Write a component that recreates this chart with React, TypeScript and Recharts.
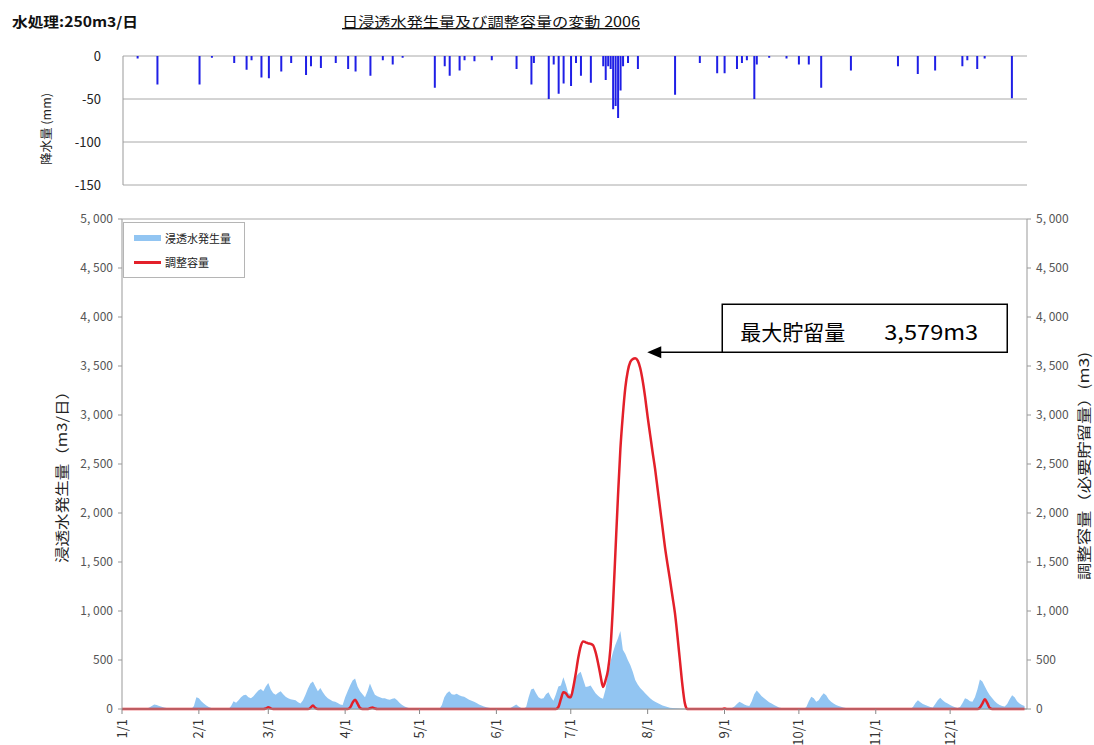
import React from 'react';
import {
  ComposedChart,
  BarChart,
  Bar,
  Area,
  Line,
  XAxis,
  YAxis,
  CartesianGrid,
  Legend,
  ReferenceDot,
} from 'recharts';

const FONT = '"Noto Sans CJK JP", "Noto Sans", sans-serif';
const BAR_COLOR = '#1f1fe6';
const SEEP_COLOR = '#92c5f2';
const RED = '#e3202a';
const GRID = '#a8a8a8';

// x axis: day index of the year 2006 (0 = 1/1)
const monthStartDays = [0, 31, 59, 90, 120, 151, 181, 212, 243, 273, 304, 334];
const monthLabels = ['1/1', '2/1', '3/1', '4/1', '5/1', '6/1', '7/1', '8/1', '9/1', '10/1', '11/1', '12/1'];

// precipitation (mm), days with rain
const precipDays = [6, 14, 31, 36, 45, 50, 52, 56, 59, 64, 68, 74, 76, 80, 86, 91, 94, 100, 105, 109, 113, 126, 130, 132, 136, 138, 142, 149, 159, 165, 166, 172, 174, 176, 178, 181, 183, 185, 189, 194, 195, 196, 197, 198, 199, 200, 201, 202, 204, 208, 223, 233, 240, 243, 248, 250, 252, 255, 256, 261, 268, 273, 277, 282, 294, 313, 321, 328, 339, 341, 345, 348, 359];
const precipValues = [3, 33, 33, 2, 8, 16, 5, 25, 26, 18, 8, 22, 12, 14, 8, 15, 18, 23, 5, 10, 2, 37, 12, 23, 17, 5, 6, 5, 15, 33, 8, 50, 10, 44, 32, 35, 8, 23, 31, 12, 28, 12, 15, 62, 58, 72, 40, 12, 8, 15, 45, 8, 20, 20, 15, 8, 5, 50, 10, 2, 3, 10, 10, 37, 17, 12, 21, 17, 12, 5, 15, 3, 49];

// daily seepage generation (m3/day), by month
const seepJan = [0, 0, 0, 0, 0, 0, 0, 0, 0, 0, 5, 15, 30, 45, 40, 30, 22, 15, 10, 6, 3, 2, 0, 0, 0, 0, 0, 0, 0, 30, 120];
const seepFeb = [110, 80, 55, 35, 20, 10, 5, 2, 0, 0, 0, 0, 0, 30, 80, 65, 90, 120, 140, 145, 120, 110, 130, 160, 190, 205, 180, 230];
const seepMar = [265, 200, 160, 145, 165, 180, 150, 125, 110, 100, 95, 90, 70, 55, 90, 145, 210, 260, 280, 230, 180, 215, 170, 135, 110, 95, 80, 75, 60, 45, 40];
const seepApr = [120, 180, 240, 290, 310, 230, 180, 150, 120, 180, 260, 200, 145, 130, 120, 110, 110, 100, 95, 105, 110, 90, 60, 40, 25, 15, 8, 4, 2, 0];
const seepMay = [0, 0, 0, 0, 0, 0, 0, 0, 0, 40, 120, 160, 180, 150, 145, 155, 140, 130, 125, 110, 95, 85, 75, 60, 45, 35, 25, 18, 12, 8, 5];
const seepJun = [3, 0, 0, 0, 0, 0, 15, 30, 45, 25, 10, 5, 20, 120, 200, 210, 160, 120, 105, 110, 150, 170, 120, 85, 150, 230, 240, 325, 250, 160];
const seepJul = [150, 240, 325, 360, 380, 300, 225, 230, 240, 200, 160, 135, 115, 105, 200, 360, 480, 580, 655, 720, 795, 605, 560, 500, 450, 380, 295, 250, 215, 190, 160];
const seepAug = [135, 110, 90, 75, 60, 48, 35, 28, 20, 14, 10, 7, 5, 3, 2, 0, 0, 0, 0, 0, 0, 0, 0, 0, 0, 0, 0, 0, 0, 0, 0];
const seepSep = [5, 10, 8, 10, 25, 50, 75, 60, 45, 35, 30, 80, 150, 190, 160, 130, 110, 90, 70, 55, 40, 28, 15, 10, 6, 3, 0, 0, 0, 0];
const seepOct = [0, 0, 0, 20, 80, 125, 110, 75, 90, 130, 160, 140, 100, 75, 55, 40, 30, 22, 15, 10, 6, 3, 0, 0, 0, 0, 0, 0, 0, 0, 0];
const seepNov = [0, 0, 0, 0, 0, 0, 0, 0, 0, 0, 0, 0, 0, 0, 0, 20, 60, 90, 70, 50, 40, 30, 20, 15, 50, 90, 115, 90, 70, 55];
const seepDec = [40, 28, 18, 10, 20, 60, 110, 100, 80, 75, 120, 200, 300, 280, 230, 180, 140, 110, 80, 55, 40, 30, 25, 50, 100, 140, 120, 80, 55, 40, 30];
const seepage = [...seepJan, ...seepFeb, ...seepMar, ...seepApr, ...seepMay, ...seepJun, ...seepJul, ...seepAug, ...seepSep, ...seepOct, ...seepNov, ...seepDec];

// storage volume (m3), days where it is above zero
const storageDays = [58, 59, 60, 76, 77, 78, 92, 93, 94, 95, 96, 100, 101, 102, 176, 177, 178, 179, 180, 181, 182, 183, 184, 185, 186, 187, 188, 189, 190, 191, 192, 193, 194, 195, 196, 197, 198, 199, 200, 201, 202, 203, 204, 205, 206, 207, 208, 209, 210, 211, 212, 213, 214, 215, 216, 217, 218, 219, 220, 221, 222, 223, 224, 225, 226, 227, 243, 346, 347, 348, 349, 350];
const storageValues = [5, 18, 6, 12, 35, 10, 15, 65, 95, 55, 10, 8, 15, 5, 20, 100, 170, 160, 125, 120, 220, 360, 520, 640, 690, 680, 670, 665, 650, 580, 470, 340, 225, 290, 395, 620, 1050, 1600, 2150, 2650, 3000, 3280, 3450, 3540, 3570, 3579, 3555, 3480, 3350, 3180, 2980, 2800, 2620, 2450, 2250, 2050, 1850, 1650, 1480, 1320, 1150, 980, 750, 500, 250, 60, 5, 15, 55, 100, 60, 10];

const peakDay = 207;
const peakValue = 3579;

const precipTicks = [0, -50, -100, -150];
const mainTicks = [0, 500, 1000, 1500, 2000, 2500, 3000, 3500, 4000, 4500, 5000];

const days = seepage.map((_, i) => i);
const precipData = days.map((d) => {
  const k = precipDays.indexOf(d);
  return { day: d, rain: k >= 0 ? -precipValues[k] : 0 };
});
const mainData = days.map((d) => {
  const k = storageDays.indexOf(d);
  return { day: d, seep: seepage[d], storage: k >= 0 ? storageValues[k] : 0 };
});

const fmt = (v: number) =>
  v >= 1000 ? `${Math.floor(v / 1000)}, ${String(v % 1000).padStart(3, '0')}` : String(v);

const MonthTick = (props: any) => {
  const { x, y, payload } = props;
  const ty = y + 3;
  return (
    <text
      x={x}
      y={ty}
      transform={`rotate(-90, ${x}, ${ty})`}
      textAnchor="end"
      dy="0.35em"
      fontSize={13}
      fontFamily={FONT}
      fill="#333"
    >
      {monthLabels[monthStartDays.indexOf(payload.value)]}
    </text>
  );
};

const renderLegend = () => (
  <div
    style={{
      width: 122,
      height: 56,
      border: '1px solid #b5b5b5',
      background: '#fff',
      boxSizing: 'border-box',
      padding: '3px 0 0 10px',
      fontFamily: FONT,
      fontSize: 11,
      color: '#222',
    }}
  >
    <div style={{ display: 'flex', alignItems: 'center', height: 24 }}>
      <span style={{ display: 'inline-block', width: 27, height: 6, background: SEEP_COLOR, marginRight: 4 }} />
      浸透水発生量
    </div>
    <div style={{ display: 'flex', alignItems: 'center', height: 24 }}>
      <span style={{ display: 'inline-block', width: 27, height: 3, background: RED, marginRight: 4 }} />
      調整容量
    </div>
  </div>
);

const PeakCallout = (props: any) => {
  const { cx, cy } = props;
  if (cx == null || cy == null) return null;
  const ay = cy - 6;
  return (
    <g>
      <line x1={cx + 22} y1={ay} x2={cx + 107} y2={ay} stroke="#000" strokeWidth={1.5} />
      <polygon points={`${cx + 12},${ay} ${cx + 26},${ay - 6} ${cx + 26},${ay + 6}`} fill="#000" />
      <rect x={cx + 87} y={cy - 54} width={285} height={48} fill="#fff" stroke="#000" strokeWidth={1.5} />
      <text x={cx + 105} y={cy - 18} fontSize={21} fontFamily={FONT} fill="#000">
        最大貯留量
      </text>
      <text x={cx + 249} y={cy - 18} fontSize={21} fontFamily={FONT} fill="#000" textLength={94} lengthAdjust="spacingAndGlyphs">
        3,579m3
      </text>
    </g>
  );
};

export default function App() {
  return (
    <div
      style={{
        position: 'absolute',
        left: 0,
        top: 0,
        width: 1094,
        height: 745,
        overflow: 'hidden',
        background: '#fff',
        fontFamily: FONT,
      }}
    >
      {/* precipitation chart */}
      <div style={{ position: 'absolute', left: 0, top: 40 }}>
        <BarChart width={1094} height={158} data={precipData} margin={{ top: 16, right: 67, left: 68, bottom: 13 }} barSize={2}>
          <CartesianGrid vertical={false} stroke={GRID} />
          <XAxis
            dataKey="day"
            type="number"
            orientation="top"
            domain={[0, 365]}
            ticks={monthStartDays}
            tickFormatter={() => ''}
            height={0}
            tickSize={3}
            axisLine={{ stroke: '#888' }}
            tickLine={{ stroke: '#888' }}
            allowDataOverflow
          />
          <YAxis
            domain={[-150, 0]}
            ticks={precipTicks}
            width={55}
            tickLine={false}
            tickMargin={16}
            axisLine={{ stroke: '#999' }}
            tick={{ fontSize: 13, fill: '#222', fontFamily: FONT }}
            interval={0}
          />
          <YAxis yAxisId="r" orientation="right" domain={[-150, 0]} width={0} tick={false} tickLine={false} axisLine={{ stroke: '#999' }} />
          <Bar dataKey="rain" fill={BAR_COLOR} isAnimationActive={false} />
        </BarChart>
      </div>

      {/* seepage / storage chart */}
      <div style={{ position: 'absolute', left: 0, top: 205 }}>
        <ComposedChart width={1094} height={540} data={mainData} margin={{ top: 14, right: 7, left: 62, bottom: 0 }}>
          <CartesianGrid vertical={false} stroke={GRID} />
          <XAxis
            dataKey="day"
            type="number"
            domain={[0, 365]}
            ticks={monthStartDays}
            interval={0}
            height={36}
            tickSize={5}
            tick={<MonthTick />}
            axisLine={{ stroke: '#999' }}
            tickLine={{ stroke: '#888' }}
            allowDataOverflow
          />
          <YAxis
            yAxisId="left"
            domain={[0, 5000]}
            ticks={mainTicks}
            interval={0}
            width={60}
            tickSize={4}
            tickMargin={5}
            tickFormatter={fmt}
            axisLine={{ stroke: '#999' }}
            tickLine={{ stroke: '#999' }}
            tick={{ fontSize: 12, fill: '#555', fontFamily: FONT }}
          />
          <YAxis
            yAxisId="right"
            orientation="right"
            domain={[0, 5000]}
            ticks={mainTicks}
            interval={0}
            width={60}
            tickSize={4}
            tickMargin={5}
            tickFormatter={fmt}
            axisLine={{ stroke: '#999' }}
            tickLine={{ stroke: '#999' }}
            tick={{ fontSize: 12, fill: '#555', fontFamily: FONT }}
          />
          <Legend
            layout="horizontal"
            verticalAlign="middle"
            align="center"
            content={renderLegend}
            wrapperStyle={{ left: 123, top: 17, width: 122, height: 56 }}
          />
          <Area
            yAxisId="left"
            type="linear"
            dataKey="seep"
            name="浸透水発生量"
            stroke="none"
            fill={SEEP_COLOR}
            fillOpacity={1}
            isAnimationActive={false}
          />
          <Line
            yAxisId="right"
            type="monotone"
            dataKey="storage"
            name="調整容量"
            stroke={RED}
            strokeWidth={2.5}
            dot={false}
            isAnimationActive={false}
          />
          <ReferenceDot yAxisId="right" x={peakDay} y={peakValue} r={0} shape={(p: any) => <PeakCallout {...p} />} />
        </ComposedChart>
      </div>

      {/* titles and axis titles */}
      <svg width={1094} height={745} style={{ position: 'absolute', left: 0, top: 0, pointerEvents: 'none' }}>
        <text x={12} y={27} fontSize={14} fontWeight="bold" fontFamily={FONT} fill="#111" textLength={126} lengthAdjust="spacingAndGlyphs">
          水処理:250m3/日
        </text>
        <text
          x={342}
          y={27}
          fontSize={14}
          fontFamily={FONT}
          fill="#111"
          textLength={298}
          lengthAdjust="spacingAndGlyphs"
          textDecoration="underline"
        >
          日浸透水発生量及び調整容量の変動 2006
        </text>
        <text
          x={47}
          y={129}
          transform="rotate(-90, 47, 129)"
          textAnchor="middle"
          dy="0.35em"
          fontSize={12}
          fontFamily={FONT}
          fill="#222"
          textLength={72}
          lengthAdjust="spacingAndGlyphs"
        >
          降水量 (mm)
        </text>
        <text
          x={62}
          y={473}
          transform="rotate(-90, 62, 473)"
          textAnchor="middle"
          dy="0.35em"
          fontSize={14}
          fontFamily={FONT}
          fill="#222"
          textLength={180}
          lengthAdjust="spacingAndGlyphs"
        >
          浸透水発生量（m3/日）
        </text>
        <text
          x={1084}
          y={466}
          transform="rotate(-90, 1084, 466)"
          textAnchor="middle"
          dy="0.35em"
          fontSize={14}
          fontFamily={FONT}
          fill="#222"
          textLength={228}
          lengthAdjust="spacingAndGlyphs"
        >
          調整容量（必要貯留量）(m3)
        </text>
      </svg>
    </div>
  );
}
